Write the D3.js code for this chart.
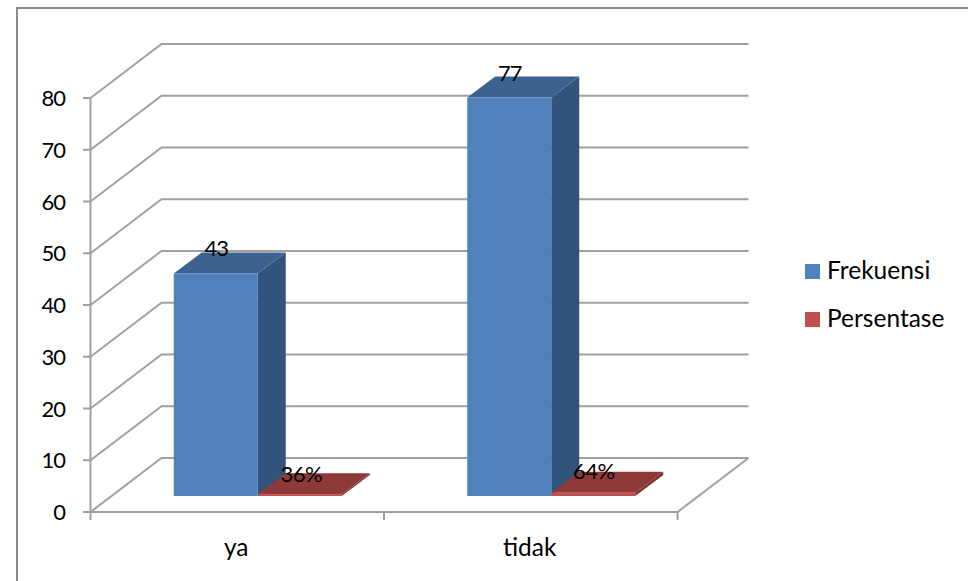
<!DOCTYPE html>
<html><head><meta charset="utf-8">
<script src="https://cdn.jsdelivr.net/npm/d3@7/dist/d3.min.js"></script>
<style>html,body{margin:0;padding:0;background:#fff}svg{display:block}
text{font-family:Lato,"Open Sans",sans-serif;fill:#000}</style></head>
<body><svg id="c" width="968" height="581"></svg>
<script>
const categories = ["ya", "tidak"];
const seriesNames = ["Frekuensi", "Persentase"];
const frekuensi = [43, 77];
const persentase = [0.36, 0.64];
const frekuensiLabels = ["43", "77"];
const persentaseLabels = ["36%", "64%"];
const yTicks = [0,10,20,30,40,50,60,70,80];

const svg = d3.select("#c");
const W = 968, H = 581;
svg.append("rect").attr("x",17).attr("y",8).attr("width",W+20).attr("height",H+20)
  .attr("fill","#fff").attr("stroke","#8a8a8a").attr("stroke-width",2);

const x = d3.scaleBand().domain(categories).range([90.5,677.5]);
const y = d3.scaleLinear().domain([0,80]).range([512,98]);
const wall = {dx:71, dy:-54};
const front = {dx:21, dy:-16};
const bar = {dx:28, dy:-21};
const barW = 84;
const grid = "#a0a0a0";
const fs = 24.5, fn = 22;

const g = svg.append("g");
g.selectAll("path.grid").data(yTicks).join("path").attr("class","grid")
  .attr("fill","none").attr("stroke",grid).attr("stroke-width",2)
  .attr("d",t=>{const p=d3.path();p.moveTo(90.5,y(t));p.lineTo(90.5+wall.dx,y(t)+wall.dy);p.lineTo(677.5+wall.dx,y(t)+wall.dy);return p.toString();});
g.append("path").attr("fill","none").attr("stroke",grid).attr("stroke-width",2)
  .attr("d",()=>{const p=d3.path();p.moveTo(677.5,y(0));p.lineTo(677.5+wall.dx,y(0)+wall.dy);return p.toString();});
g.append("path").attr("fill","none").attr("stroke",grid).attr("stroke-width",2)
  .attr("d",()=>{const p=d3.path();p.moveTo(90.5,y(80));p.lineTo(90.5,y(0));p.lineTo(677.5,y(0));return p.toString();});
g.selectAll("line.yt").data(yTicks).join("line").attr("class","yt")
  .attr("x1",83).attr("x2",90.5).attr("y1",t=>y(t)).attr("y2",t=>y(t)).attr("stroke",grid).attr("stroke-width",2);
g.selectAll("line.xt").data([...categories.map(c=>x(c)),677.5]).join("line").attr("class","xt")
  .attr("x1",d=>d).attr("x2",d=>d).attr("y1",512).attr("y2",520).attr("stroke",grid).attr("stroke-width",2);

g.selectAll("text.yl").data(yTicks).join("text").attr("class","yl")
  .attr("x",65).attr("y",t=>y(t)+8).attr("text-anchor","end").attr("font-size",fn).attr("letter-spacing",-1).text(t=>t);
g.selectAll("text.xl").data(categories).join("text").attr("class","xl")
  .attr("x",c=>x(c)+x.bandwidth()/2-1).attr("y",556).attr("text-anchor","middle").attr("font-size",fs).text(c=>c);

function cuboid(x0, v, cols){
  const base = y(0)+front.dy, h = y(0)-y(v), top = base-h, x1=x0+barW;
  const poly = pts=>pts.map(p=>p.join(",")).join(" ");
  g.append("polygon").attr("fill",cols[2]).attr("points",poly([[x1,base],[x1+bar.dx,base+bar.dy],[x1+bar.dx,top+bar.dy],[x1,top]]));
  g.append("polygon").attr("fill",cols[1]).attr("points",poly([[x0,top],[x1,top],[x1+bar.dx,top+bar.dy],[x0+bar.dx,top+bar.dy]]));
  g.append("rect").attr("x",x0).attr("y",top).attr("width",barW).attr("height",h).attr("fill",cols[0]);
}
const blue = ["#4f81bd","#3c6291","#32547c"], red = ["#c0504d","#8e3a38","#7c3230"];
categories.forEach((c,i)=>{
  const cx = x(c)+x.bandwidth()/2+front.dx;
  cuboid(cx-barW-0.5, frekuensi[i], blue);
  cuboid(cx-0.5, persentase[i], red);
});
categories.forEach((c,i)=>{
  const cx = x(c)+x.bandwidth()/2+front.dx;
  const base = y(0)+front.dy;
  g.append("text").attr("x",cx-42).attr("y",base-(y(0)-y(frekuensi[i]))-17).attr("text-anchor","middle").attr("font-size",fn).attr("letter-spacing",-1).text(frekuensiLabels[i]);
  g.append("text").attr("x",cx+[43,42][i]).attr("y",base-(y(0)-y(persentase[i]))+[-12,-14][i]).attr("text-anchor","middle").attr("font-size",fn).attr("letter-spacing",-0.6).text(persentaseLabels[i]);
});
const lg = svg.append("g");
seriesNames.forEach((s,i)=>{
  const ly = 264+48*i;
  lg.append("rect").attr("x",805).attr("y",ly).attr("width",15).attr("height",15).attr("fill",[blue[0],red[0]][i]);
  lg.append("text").attr("x",827).attr("y",ly+15).attr("font-size",fs).text(s);
});
</script></body></html>
